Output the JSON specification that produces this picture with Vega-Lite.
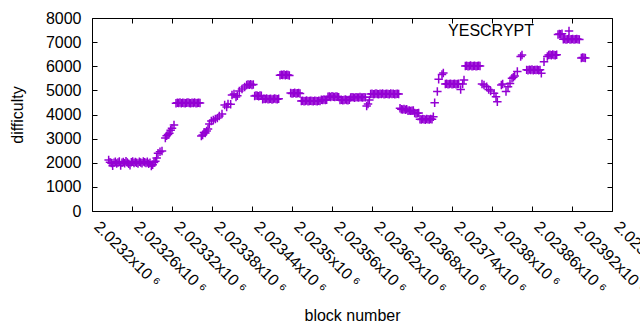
{
  "$schema": "https://vega.github.io/schema/vega-lite/v6.json",
  "width": 520,
  "height": 193,
  "autosize": {"type": "none"},
  "padding": {"left": 92, "top": 18, "right": 28, "bottom": 119},
  "background": "white",
  "config": {
    "font": "Liberation Sans",
    "view": {"stroke": "#000", "strokeWidth": 1},
    "axis": {
      "grid": false,
      "domain": false,
      "tickColor": "#000",
      "tickSize": -5,
      "labelColor": "#000",
      "labelFontSize": 16,
      "labelFont": "Liberation Sans",
      "titleColor": "#000",
      "titleFontSize": 16,
      "titleFont": "Liberation Sans",
      "titleFontWeight": "normal",
      "labelOverlap": false,
      "labelFlush": false,
      "labelBound": false
    }
  },
  "data": {
    "format": {"type": "csv"},
    "values": "block,difficulty\n2023225,2110\n2023227,2020\n2023229,1990\n2023231,1880\n2023233,2000\n2023235,2040\n2023237,1970\n2023239,2010\n2023241,2050\n2023243,1890\n2023245,2000\n2023247,2030\n2023249,1980\n2023251,2060\n2023253,2010\n2023255,1960\n2023257,1900\n2023259,2020\n2023261,2050\n2023263,1990\n2023265,2030\n2023267,2000\n2023269,1970\n2023271,2040\n2023273,2010\n2023275,1980\n2023277,2050\n2023279,2020\n2023281,1990\n2023283,2040\n2023285,1960\n2023287,2000\n2023289,1870\n2023291,1920\n2023293,2010\n2023295,2060\n2023297,2200\n2023299,2390\n2023302,2460\n2023305,2490\n2023310,3030\n2023312,3120\n2023314,3170\n2023316,3220\n2023318,3350\n2023320,3430\n2023323,3560\n2023326,4470\n2023328,4490\n2023330,4480\n2023332,4500\n2023334,4470\n2023336,4490\n2023338,4480\n2023340,4470\n2023342,4490\n2023344,4500\n2023346,4480\n2023348,4470\n2023350,4490\n2023352,4480\n2023354,4500\n2023356,4470\n2023358,4480\n2023360,4490\n2023362,4480\n2023364,3110\n2023366,3150\n2023368,3250\n2023370,3230\n2023372,3320\n2023374,3400\n2023376,3610\n2023379,3730\n2023382,3770\n2023385,3810\n2023388,3850\n2023391,3940\n2023395,4020\n2023399,4390\n2023402,4310\n2023404,4440\n2023408,4420\n2023410,4810\n2023413,4850\n2023416,4730\n2023418,4780\n2023421,4970\n2023425,5060\n2023429,5140\n2023432,5220\n2023434,5240\n2023436,5230\n2023438,5250\n2023440,5220\n2023442,5240\n2023444,4770\n2023446,4790\n2023448,4780\n2023450,4760\n2023452,4790\n2023454,4780\n2023456,4630\n2023458,4650\n2023460,4640\n2023462,4660\n2023464,4630\n2023466,4640\n2023468,4650\n2023470,4620\n2023472,4640\n2023474,4660\n2023476,4640\n2023478,4630\n2023480,4650\n2023482,5630\n2023484,5650\n2023486,5640\n2023488,5660\n2023490,5630\n2023492,5650\n2023494,5640\n2023496,5620\n2023498,4890\n2023500,4870\n2023502,4880\n2023504,4900\n2023506,4870\n2023508,4880\n2023510,4890\n2023512,4870\n2023514,4560\n2023516,4570\n2023518,4550\n2023520,4560\n2023522,4580\n2023524,4550\n2023526,4560\n2023528,4570\n2023530,4560\n2023532,4550\n2023534,4570\n2023536,4560\n2023538,4550\n2023540,4570\n2023542,4560\n2023544,4610\n2023546,4600\n2023548,4620\n2023550,4600\n2023552,4610\n2023554,4740\n2023556,4750\n2023558,4730\n2023560,4760\n2023562,4740\n2023564,4730\n2023566,4750\n2023568,4740\n2023570,4720\n2023572,4600\n2023574,4610\n2023576,4590\n2023578,4600\n2023580,4620\n2023582,4600\n2023584,4590\n2023586,4610\n2023588,4700\n2023590,4720\n2023592,4710\n2023594,4690\n2023596,4720\n2023598,4710\n2023600,4700\n2023602,4730\n2023604,4710\n2023606,4700\n2023608,4720\n2023610,4710\n2023612,4350\n2023614,4440\n2023616,4600\n2023618,4850\n2023620,4860\n2023622,4840\n2023624,4850\n2023626,4870\n2023628,4850\n2023630,4840\n2023632,4860\n2023634,4850\n2023636,4870\n2023638,4840\n2023640,4850\n2023642,4860\n2023644,4850\n2023646,4840\n2023648,4870\n2023650,4850\n2023652,4860\n2023654,4840\n2023656,4850\n2023658,4860\n2023660,4850\n2023662,4260\n2023664,4220\n2023666,4210\n2023668,4230\n2023670,4200\n2023672,4220\n2023674,4160\n2023676,4170\n2023678,4150\n2023680,4160\n2023682,4170\n2023684,4060\n2023686,4040\n2023688,4050\n2023690,4060\n2023692,3800\n2023694,3790\n2023696,3810\n2023698,3800\n2023700,3780\n2023702,3810\n2023704,3800\n2023706,3790\n2023708,3810\n2023710,3800\n2023712,3910\n2023714,4490\n2023718,4950\n2023720,5460\n2023725,5660\n2023727,5720\n2023730,5260\n2023732,5270\n2023734,5250\n2023736,5260\n2023738,5280\n2023740,5250\n2023742,5260\n2023744,5270\n2023746,5250\n2023748,5260\n2023750,5270\n2023753,5040\n2023756,5260\n2023758,5430\n2023760,6010\n2023762,6020\n2023764,6000\n2023766,6010\n2023768,6030\n2023770,6000\n2023772,6010\n2023774,6020\n2023776,6000\n2023778,6010\n2023780,6020\n2023782,6010\n2023785,5260\n2023788,5220\n2023792,5150\n2023795,5040\n2023798,4970\n2023803,4880\n2023806,4740\n2023808,4530\n2023814,5220\n2023816,5260\n2023821,4950\n2023824,5150\n2023827,5290\n2023830,5500\n2023832,5540\n2023834,5600\n2023838,5780\n2023843,6400\n2023845,6470\n2023852,5850\n2023854,5830\n2023856,5860\n2023858,5840\n2023860,5870\n2023862,5830\n2023864,5850\n2023866,5840\n2023868,5860\n2023870,5830\n2023872,5850\n2023874,5710\n2023878,6190\n2023883,6400\n2023885,6470\n2023887,6480\n2023889,6460\n2023891,6490\n2023893,6470\n2023895,6460\n2023897,6480\n2023899,7320\n2023901,7340\n2023903,7330\n2023905,7350\n2023907,7120\n2023909,7130\n2023911,7110\n2023913,7120\n2023915,7140\n2023917,7110\n2023919,7120\n2023921,7130\n2023923,7110\n2023925,7120\n2023927,7130\n2023929,7120\n2023931,7110\n2023934,6340\n2023936,6360\n2023938,6350\n2023940,6340"
  },
  "layer": [
    {
      "mark": {"type": "point", "shape": "M-1,0H1M0,-1V1", "filled": false, "strokeWidth": 1.5, "size": 72, "opacity": 1},
      "encoding": {
        "x": {
          "field": "block", "type": "quantitative",
          "scale": {"domain": [2023200, 2023980], "nice": false, "zero": false},
          "axis": {
            "orient": "bottom",
            "values": [2023200, 2023260, 2023320, 2023380, 2023440, 2023500, 2023560, 2023620, 2023680, 2023740, 2023800, 2023860, 2023920, 2023980],
            "labelExpr": "format(datum.value / 1000000, '.6~g') + 'x10 ⁶'",
            "labelAngle": 45,
            "labelAlign": "left",
            "labelBaseline": "top",
            "labelPadding": 12,
            "labelOffset": 10,
            "title": "block number",
            "titleY": 96,
            "titleBaseline": "top"
          }
        },
        "y": {
          "field": "difficulty", "type": "quantitative",
          "scale": {"domain": [0, 8000], "nice": false},
          "axis": {
            "orient": "left",
            "values": [0, 1000, 2000, 3000, 4000, 5000, 6000, 7000, 8000],
            "format": "d",
            "labelPadding": 16,
            "title": "difficulty",
            "titleX": -75,
            "titleY": 96.5,
            "titleAngle": -90,
            "titleAlign": "center",
            "titleBaseline": "middle"
          }
        },
        "color": {
          "datum": "YESCRYPT",
          "type": "nominal",
          "scale": {"range": ["#9400d3"]},
          "legend": {
            "orient": "none",
            "legendX": 469,
            "legendY": 5,
            "title": null,
            "padding": 0,
            "labelFontSize": 16,
            "labelFont": "Liberation Sans",
            "labelColor": "#000",
            "labelAlign": "right",
            "labelOffset": -43,
            "symbolType": "M-1,0H1M0,-1V1",
            "symbolSize": 72,
            "symbolStrokeWidth": 1.5,
            "symbolFillColor": "transparent"
          }
        }
      }
    },
    {
      "mark": {"type": "point", "opacity": 0},
      "encoding": {
        "x": {
          "field": "block", "type": "quantitative",
          "scale": {"domain": [2023200, 2023980], "nice": false, "zero": false},
          "axis": {
            "orient": "top",
            "values": [2023200, 2023260, 2023320, 2023380, 2023440, 2023500, 2023560, 2023620, 2023680, 2023740, 2023800, 2023860, 2023920, 2023980],
            "labels": false,
            "title": null
          }
        },
        "y": {
          "field": "difficulty", "type": "quantitative",
          "scale": {"domain": [0, 8000], "nice": false},
          "axis": {
            "orient": "right",
            "values": [0, 1000, 2000, 3000, 4000, 5000, 6000, 7000, 8000],
            "labels": false,
            "title": null
          }
        }
      }
    }
  ],
  "resolve": {"axis": {"x": "independent", "y": "independent"}}
}
